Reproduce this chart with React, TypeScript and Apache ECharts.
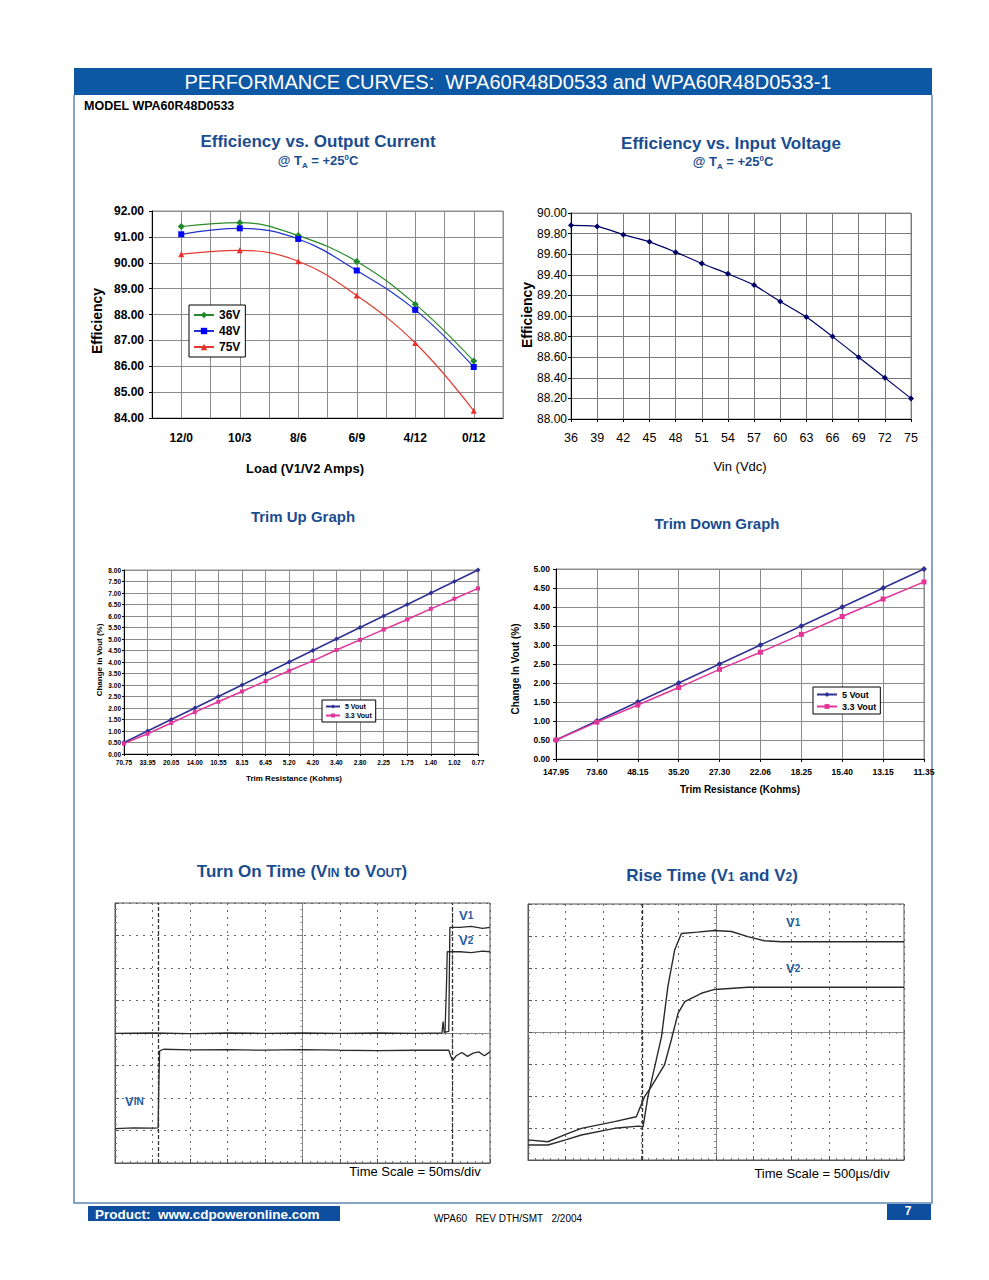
import React, { useEffect, useRef } from "react";
import * as echarts from "echarts";

// ---------- DATA ----------
const loadCategories = ["12/0", "10/3", "8/6", "6/9", "4/12", "0/12"];
const eff36V = [91.4, 91.55, 91.05, 90.05, 88.4, 86.2];
const eff48V = [91.1, 91.33, 90.92, 89.7, 88.18, 85.97];
const eff75V = [90.33, 90.48, 90.06, 88.73, 86.9, 84.28];

const vinValues = [36, 39, 42, 45, 48, 51, 54, 57, 60, 63, 66, 69, 72, 75];
const effVin = [89.88, 89.87, 89.79, 89.72, 89.62, 89.51, 89.41, 89.3, 89.14, 88.99, 88.8, 88.6, 88.4, 88.2];

const trimUpResistance = ["70.75", "33.95", "20.05", "14.00", "10.55", "8.15", "6.45", "5.20", "4.20", "3.40", "2.80", "2.25", "1.75", "1.40", "1.02", "0.77"];
const trimUp5V = [0.5, 1.0, 1.5, 2.0, 2.5, 3.0, 3.5, 4.0, 4.5, 5.0, 5.5, 6.0, 6.5, 7.0, 7.5, 8.0];
const trimUp33V = [0.45, 0.88, 1.35, 1.82, 2.27, 2.72, 3.17, 3.62, 4.05, 4.52, 4.96, 5.41, 5.85, 6.31, 6.75, 7.2];

const trimDownResistance = ["147.95", "73.60", "48.15", "35.20", "27.30", "22.06", "18.25", "15.40", "13.15", "11.35"];
const trimDown5V = [0.5, 1.0, 1.5, 2.0, 2.5, 3.0, 3.5, 4.0, 4.5, 5.0];
const trimDown33V = [0.5, 0.97, 1.42, 1.88, 2.36, 2.81, 3.28, 3.75, 4.21, 4.66];

// oscilloscope traces, in divisions (x: 0-10, y: 0-8)
const turnOnVin = [[0, 1.06], [0.5, 1.08], [1.0, 1.07], [1.15, 1.08], [1.17, 2.5], [1.19, 3.45], [1.3, 3.5], [2.0, 3.48], [3.0, 3.49], [4.0, 3.47], [5.0, 3.49], [6.0, 3.47], [7.0, 3.46], [8.0, 3.47], [8.9, 3.47], [8.95, 3.3], [9.0, 3.15], [9.1, 3.3], [9.25, 3.4], [9.4, 3.28], [9.55, 3.38], [9.7, 3.42], [9.85, 3.3], [10, 3.42]];
const turnOnV1 = [[0, 3.99], [1, 4.0], [2, 3.98], [3, 4.0], [4, 3.99], [5, 4.0], [6, 3.99], [7, 4.0], [8, 3.99], [8.72, 4.0], [8.75, 4.35], [8.78, 4.02], [8.9, 4.05], [8.93, 7.25], [9.2, 7.25], [9.5, 7.28], [9.8, 7.22], [10, 7.25]];
const turnOnV2 = [[8.8, 4.0], [8.84, 5.5], [8.86, 6.5], [9.2, 6.5], [9.5, 6.47], [9.8, 6.52], [10, 6.5]];
const turnOnCursors = [1.16, 9.0];

const riseV1 = [[0, 0.47], [0.53, 0.47], [1.0, 0.63], [1.42, 0.78], [2.3, 0.99], [2.93, 1.06], [3.06, 1.04], [3.19, 1.98], [3.55, 3.85], [3.72, 5.42], [3.9, 6.56], [4.08, 7.08], [4.5, 7.12], [4.96, 7.17], [5.41, 7.14], [5.85, 6.98], [6.29, 6.85], [6.74, 6.82], [8, 6.82], [10, 6.82]];
const riseV2 = [[0, 0.63], [0.53, 0.57], [1.0, 0.8], [1.42, 0.99], [2.3, 1.2], [2.88, 1.35], [3.1, 1.98], [3.28, 2.29], [3.63, 2.97], [3.81, 3.75], [3.99, 4.58], [4.17, 4.95], [4.61, 5.21], [4.96, 5.33], [5.85, 5.4], [10, 5.4]];
const riseCursors = [3.04];

// ---------- STYLE ----------
const FONT = '"Liberation Sans", Arial, sans-serif';
const TITLE = "#1a4d8f";
const LABEL_BLUE = "#1f5ca3";

function excelValueAxis(grid: number, min: number, max: number, interval: number, fontSize: number, extra: any = {}) {
  return {
    gridIndex: grid,
    type: "value",
    min,
    max,
    interval,
    axisLine: { show: true, onZero: false, lineStyle: { color: "#000", width: 1 } },
    axisTick: { show: true, length: 3, lineStyle: { color: "#000" } },
    splitLine: { show: true, lineStyle: { color: "#8c8c8c", width: 1 } },
    axisLabel: {
      color: "#000",
      fontFamily: FONT,
      fontWeight: "bold",
      fontSize,
      formatter: (v: number) => v.toFixed(2),
    },
    ...extra,
  };
}

function scopeAxes(grid: number, dim: "x" | "y", half: number) {
  const max = dim === "x" ? 10 : 8;
  const main = {
    gridIndex: grid,
    type: "value",
    min: 0,
    max,
    interval: 1,
    position: dim === "x" ? "bottom" : "left",
    axisLine: { show: true, onZero: false, lineStyle: { color: "#555", width: 1 } },
    axisTick: { show: true, inside: true, length: 4, lineStyle: { color: "#555" } },
    minorTick: { show: true, splitNumber: 5, length: 2, lineStyle: { color: "#777" } },
    axisLabel: { show: false },
    splitLine: { show: true, lineStyle: { color: "#666", width: 1, type: [2, 5] } },
  };
  const center = {
    gridIndex: grid,
    type: "value",
    min: 0,
    max,
    interval: 1,
    position: dim === "x" ? "bottom" : "left",
    offset: -half,
    axisLine: { show: true, onZero: false, lineStyle: { color: "#8a8a8a", width: 1 } },
    axisTick: { show: true, length: 3, lineStyle: { color: "#777" } },
    minorTick: { show: true, splitNumber: 5, length: 2, lineStyle: { color: "#888" } },
    axisLabel: { show: false },
    splitLine: { show: false },
  };
  return [main, center];
}

function text(x: number, y: number, t: string, font: string, fill = "#000", align = "center", extra: any = {}) {
  return {
    type: "text",
    x,
    y,
    silent: true,
    style: { text: t, font, fill, align, verticalAlign: "middle", ...extra },
  };
}

function vtext(x: number, y: number, t: string, font: string) {
  return {
    type: "text",
    x,
    y,
    rotation: Math.PI / 2,
    silent: true,
    style: { text: t, font, fill: "#000", align: "center", verticalAlign: "middle" },
  };
}

function subText(x: number, y: number, t: string, big: number, small: number, fill: string, align = "center") {
  return {
    type: "text",
    x,
    y,
    silent: true,
    style: {
      text: t,
      fill,
      align,
      verticalAlign: "middle",
      font: `bold ${big}px ${FONT}`,
      rich: {
        b: { fontSize: big, fontWeight: "bold", fontFamily: FONT, fill, verticalAlign: "bottom" },
        s: { fontSize: small, fontWeight: "bold", fontFamily: FONT, fill, verticalAlign: "bottom", padding: [0, 0, 1, 0] },
        sub: { fontSize: small, fontWeight: "bold", fontFamily: FONT, fill, verticalAlign: "bottom", padding: [0, 0, -3, 0] },
        sup: { fontSize: small, fontWeight: "bold", fontFamily: FONT, fill, verticalAlign: "top" },
      },
    },
  };
}

function legendBox(left: number, top: number, names: string[], fontSize: number, itemWidth: number, itemHeight: number, gap: number, pad: number[]) {
  return {
    data: names,
    left,
    top,
    orient: "vertical",
    backgroundColor: "#fff",
    borderColor: "#000",
    borderWidth: 1,
    borderRadius: 0,
    padding: pad,
    itemGap: gap,
    itemWidth,
    itemHeight,
    selectedMode: false,
    textStyle: { fontFamily: FONT, fontWeight: "bold", fontSize, color: "#000" },
  };
}

export default function App() {
  const ref = useRef<HTMLDivElement>(null);

  useEffect(() => {
    if (!ref.current) return;
    const chart = echarts.init(ref.current, null, { renderer: "svg" });

    const sx = scopeAxes(4, "x", 130);
    const sy = scopeAxes(4, "y", 187.5);
    const rx = scopeAxes(5, "x", 128);
    const ry = scopeAxes(5, "y", 188);

    const option: any = {
      animation: false,
      backgroundColor: "#fff",
      grid: [
        { left: 152, top: 211, width: 351, height: 207, show: true, borderColor: "#8c8c8c", borderWidth: 1, backgroundColor: "#fff" },
        { left: 571, top: 213, width: 340, height: 206, show: true, borderColor: "#8c8c8c", borderWidth: 1, backgroundColor: "#fff" },
        { left: 124, top: 570, width: 354, height: 184, show: true, borderColor: "#8c8c8c", borderWidth: 1, backgroundColor: "#fff" },
        { left: 556, top: 569, width: 368, height: 190, show: true, borderColor: "#8c8c8c", borderWidth: 1, backgroundColor: "#fff" },
        { left: 115, top: 903, width: 375, height: 260, show: true, borderColor: "#555", borderWidth: 1, backgroundColor: "#fff" },
        { left: 528, top: 904, width: 376, height: 256, show: true, borderColor: "#555", borderWidth: 1, backgroundColor: "#fff" },
      ],
      xAxis: [
        {
          gridIndex: 0,
          type: "value",
          min: 0,
          max: 12,
          interval: 1,
          axisLine: { show: true, onZero: false, lineStyle: { color: "#000" } },
          axisTick: { show: false },
          splitLine: { show: true, lineStyle: { color: "#8c8c8c" } },
          axisLabel: {
            margin: 14,
            color: "#000",
            fontFamily: FONT,
            fontWeight: "bold",
            fontSize: 12,
            formatter: (v: number) => (v % 2 === 1 ? loadCategories[(v - 1) / 2] : ""),
          },
        },
        {
          gridIndex: 1,
          type: "value",
          min: 36,
          max: 75,
          interval: 3,
          axisLine: { show: true, onZero: false, lineStyle: { color: "#000" } },
          axisTick: { show: true, length: 3, lineStyle: { color: "#000" } },
          splitLine: { show: true, lineStyle: { color: "#7a7a7a" } },
          axisLabel: { margin: 12, color: "#000", fontFamily: FONT, fontSize: 12.5 },
        },
        {
          gridIndex: 2,
          type: "category",
          data: trimUpResistance,
          boundaryGap: false,
          axisLine: { show: true, lineStyle: { color: "#000" } },
          axisTick: { show: true, length: 2, lineStyle: { color: "#000" } },
          splitLine: { show: true, lineStyle: { color: "#8c8c8c" } },
          axisLabel: { interval: 0, margin: 5, color: "#000", fontFamily: FONT, fontWeight: "bold", fontSize: 6.5 },
        },
        {
          gridIndex: 3,
          type: "category",
          data: trimDownResistance,
          boundaryGap: false,
          axisLine: { show: true, lineStyle: { color: "#000" } },
          axisTick: { show: true, length: 3, lineStyle: { color: "#000" } },
          splitLine: { show: true, lineStyle: { color: "#8c8c8c" } },
          axisLabel: { interval: 0, margin: 8, color: "#000", fontFamily: FONT, fontWeight: "bold", fontSize: 8.5 },
        },
        sx[0],
        sx[1],
        rx[0],
        rx[1],
      ],
      yAxis: [
        excelValueAxis(0, 84, 92, 1, 12, { axisLabel: { margin: 8, color: "#000", fontFamily: FONT, fontWeight: "bold", fontSize: 12, formatter: (v: number) => v.toFixed(2) } }),
        excelValueAxis(1, 88, 90, 0.2, 12, { splitLine: { show: true, lineStyle: { color: "#7a7a7a" } }, axisLabel: { margin: 4, color: "#000", fontFamily: FONT, fontSize: 12, formatter: (v: number) => v.toFixed(2) } }),
        excelValueAxis(2, 0, 8, 0.5, 6.5, { axisTick: { show: true, length: 2, lineStyle: { color: "#000" } }, axisLabel: { margin: 3, color: "#000", fontFamily: FONT, fontWeight: "bold", fontSize: 6.5, formatter: (v: number) => v.toFixed(2) } }),
        excelValueAxis(3, 0, 5, 0.5, 8.5, { axisLabel: { margin: 6, color: "#000", fontFamily: FONT, fontWeight: "bold", fontSize: 8.5, formatter: (v: number) => v.toFixed(2) } }),
        sy[0],
        sy[1],
        ry[0],
        ry[1],
      ],
      legend: [
        legendBox(189, 305, ["36V", "48V", "75V"], 12, 20, 8, 4, [4, 5, 4, 4]),
        legendBox(322, 700, ["5 Vout", "3.3 Vout"], 7, 14, 5, 2, [3, 4, 3, 3]),
        legendBox(813, 687, ["5 Vout", "3.3 Vout"], 9, 20, 6, 3, [3, 4, 3, 3]),
      ],
      series: [
        {
          name: "36V", type: "line", xAxisIndex: 0, yAxisIndex: 0, smooth: 0.4,
          data: eff36V.map((v, i) => [2 * i + 1, v]),
          symbol: "diamond", symbolSize: 7,
          itemStyle: { color: "#1f8a2a" }, lineStyle: { color: "#2a8a2a", width: 1.2 },
        },
        {
          name: "48V", type: "line", xAxisIndex: 0, yAxisIndex: 0, smooth: 0.4,
          data: eff48V.map((v, i) => [2 * i + 1, v]),
          symbol: "rect", symbolSize: 6,
          itemStyle: { color: "#0000ff" }, lineStyle: { color: "#2233cc", width: 1.2 },
        },
        {
          name: "75V", type: "line", xAxisIndex: 0, yAxisIndex: 0, smooth: 0.4,
          data: eff75V.map((v, i) => [2 * i + 1, v]),
          symbol: "triangle", symbolSize: 6,
          itemStyle: { color: "#e8302a" }, lineStyle: { color: "#e03a30", width: 1.2 },
        },
        {
          name: "Efficiency", type: "line", xAxisIndex: 1, yAxisIndex: 1, smooth: 0.2,
          data: vinValues.map((x, i) => [x, effVin[i]]),
          symbol: "diamond", symbolSize: 6,
          itemStyle: { color: "#000066" }, lineStyle: { color: "#000066", width: 1.2 },
        },
        {
          name: "5 Vout", type: "line", xAxisIndex: 2, yAxisIndex: 2,
          data: trimUp5V, symbol: "diamond", symbolSize: 5,
          itemStyle: { color: "#2e3192" }, lineStyle: { color: "#2e3192", width: 1.5 },
        },
        {
          name: "3.3 Vout", type: "line", xAxisIndex: 2, yAxisIndex: 2,
          data: trimUp33V, symbol: "rect", symbolSize: 4,
          itemStyle: { color: "#e2359a" }, lineStyle: { color: "#e2359a", width: 1.5 },
        },
        {
          name: "5 Vout", type: "line", xAxisIndex: 3, yAxisIndex: 3,
          data: trimDown5V, symbol: "diamond", symbolSize: 6,
          itemStyle: { color: "#2e3192" }, lineStyle: { color: "#2e3192", width: 1.5 },
        },
        {
          name: "3.3 Vout", type: "line", xAxisIndex: 3, yAxisIndex: 3,
          data: trimDown33V, symbol: "rect", symbolSize: 5,
          itemStyle: { color: "#e2359a" }, lineStyle: { color: "#e2359a", width: 1.5 },
        },
        {
          name: "VIN trace", type: "line", xAxisIndex: 4, yAxisIndex: 4, showSymbol: false, symbol: "none",
          data: turnOnVin, lineStyle: { color: "#2a2a2a", width: 1.3 },
          markLine: {
            silent: true, symbol: ["none", "none"], label: { show: false },
            lineStyle: { color: "#333", type: [4, 2], width: 1.3 },
            data: turnOnCursors.map((x) => ({ xAxis: x })),
          },
        },
        {
          name: "V1 on", type: "line", xAxisIndex: 4, yAxisIndex: 4, showSymbol: false, symbol: "none",
          data: turnOnV1, lineStyle: { color: "#2a2a2a", width: 1.3 },
        },
        {
          name: "V2 on", type: "line", xAxisIndex: 4, yAxisIndex: 4, showSymbol: false, symbol: "none",
          data: turnOnV2, lineStyle: { color: "#2a2a2a", width: 1.3 },
        },
        {
          name: "V1 rise", type: "line", xAxisIndex: 6, yAxisIndex: 6, showSymbol: false, symbol: "none",
          data: riseV1, lineStyle: { color: "#2a2a2a", width: 1.4 },
          markLine: {
            silent: true, symbol: ["none", "none"], label: { show: false },
            lineStyle: { color: "#333", type: [4, 2], width: 1.3 },
            data: riseCursors.map((x) => ({ xAxis: x })),
          },
        },
        {
          name: "V2 rise", type: "line", xAxisIndex: 6, yAxisIndex: 6, showSymbol: false, symbol: "none",
          data: riseV2, lineStyle: { color: "#2a2a2a", width: 1.4 },
        },
      ],
      graphic: [
        // header
        { type: "rect", silent: true, shape: { x: 74, y: 68, width: 858, height: 27 }, style: { fill: "#0d58a5" } },
        text(508, 82, "PERFORMANCE CURVES:  WPA60R48D0533 and WPA60R48D0533-1", `20px ${FONT}`, "#fff"),
        { type: "polyline", silent: true, shape: { points: [[74, 95], [74, 1203], [932, 1203], [932, 95]] }, style: { stroke: "#5f87b3", lineWidth: 1.5, fill: null } },
        text(84, 106, "MODEL WPA60R48D0533", `bold 12.5px ${FONT}`, "#000", "left"),

        // titles
        text(318, 141, "Efficiency vs. Output Current", `bold 17px ${FONT}`, TITLE),
        subText(318, 160, "{b|@ T}{sub|A}{b| = +25}{sup|0}{b|C}", 13, 8, TITLE),
        text(731, 143, "Efficiency vs. Input Voltage", `bold 17px ${FONT}`, TITLE),
        subText(733, 161, "{b|@ T}{sub|A}{b| = +25}{sup|0}{b|C}", 13, 8, TITLE),
        text(303, 516, "Trim Up Graph", `bold 15px ${FONT}`, TITLE),
        text(717, 523, "Trim Down Graph", `bold 15px ${FONT}`, TITLE),
        subText(302, 871, "{b|Turn On Time (V}{s|IN}{b| to V}{s|OUT}{b|)}", 17, 12, TITLE),
        subText(712, 875, "{b|Rise Time (V}{s|1}{b| and V}{s|2}{b|)}", 17, 12, TITLE),

        // axis names
        vtext(97, 321, "Efficiency", `bold 14px ${FONT}`),
        text(305, 468, "Load (V1/V2 Amps)", `bold 13px ${FONT}`),
        vtext(527, 315, "Efficiency", `bold 14px ${FONT}`),
        text(740, 466, "Vin (Vdc)", `13px ${FONT}`),
        vtext(99, 660, "Change In Vout (%)", `bold 8px ${FONT}`),
        text(294, 778, "Trim Resistance (Kohms)", `bold 8px ${FONT}`),
        vtext(515, 669, "Change In Vout (%)", `bold 10px ${FONT}`),
        text(740, 789, "Trim Resistance (Kohms)", `bold 10px ${FONT}`),

        // scope labels
        subText(459, 915, "{b|V}{s|1}", 13, 10, LABEL_BLUE, "left"),
        subText(459, 940, "{b|V}{s|2}", 13, 10, LABEL_BLUE, "left"),
        subText(125, 1101, "{b|V}{s|IN}", 13, 10, LABEL_BLUE, "left"),
        text(415, 1171, "Time Scale = 50ms/div", `13px ${FONT}`),
        subText(786, 922, "{b|V}{s|1}", 13, 10, LABEL_BLUE, "left"),
        subText(786, 968, "{b|V}{s|2}", 13, 10, LABEL_BLUE, "left"),
        text(822, 1173, "Time Scale = 500µs/div", `13px ${FONT}`),

        // footer
        { type: "rect", silent: true, shape: { x: 88, y: 1206, width: 252, height: 15 }, style: { fill: "#0d4f9e" } },
        text(95, 1214, "Product:  www.cdpoweronline.com", `bold 13.5px ${FONT}`, "#fff", "left"),
        text(508, 1218, "WPA60\u00a0\u00a0\u00a0REV\u00a0DTH/SMT\u00a0\u00a0\u00a02/2004", `10px ${FONT}`),
        { type: "rect", silent: true, shape: { x: 887, y: 1204, width: 44, height: 16 }, style: { fill: "#0d4f9e" } },
        text(908, 1211, "7", `bold 12px ${FONT}`, "#fff"),
      ],
    };

    chart.setOption(option);
    return () => chart.dispose();
  }, []);

  return (
    <div
      ref={ref}
      style={{ position: "absolute", left: 0, top: 0, width: 989, height: 1280, background: "#fff" }}
    />
  );
}
